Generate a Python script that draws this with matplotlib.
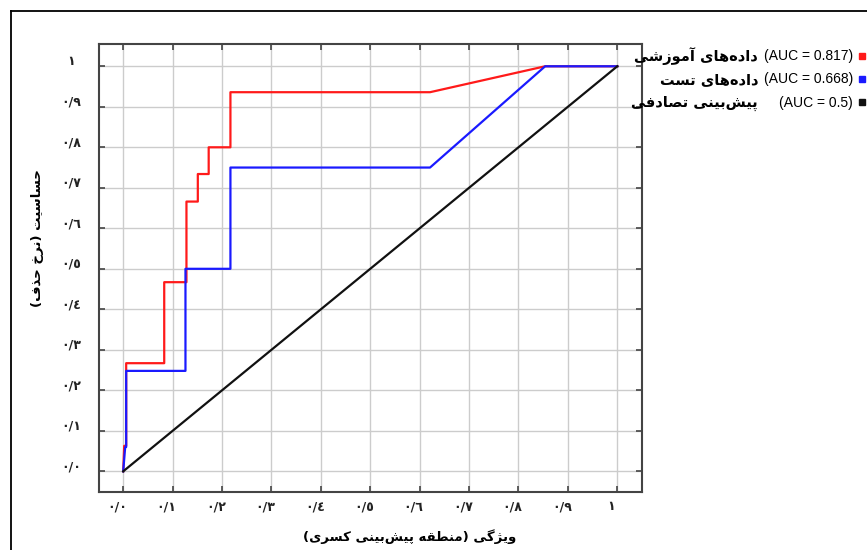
import numpy as np
import matplotlib
matplotlib.use('Agg')
import matplotlib.pyplot as plt
from matplotlib.lines import Line2D
from matplotlib.transforms import ScaledTranslation

# داده‌های منحنی ROC (خوانده شده از تصویر)
train_fpr = [0.0, 0.002, 0.006, 0.006, 0.083, 0.083, 0.128, 0.128, 0.151, 0.151, 0.173, 0.173, 0.217, 0.217, 0.621, 0.854, 1.0]
train_tpr = [0.0, 0.063, 0.063, 0.267, 0.267, 0.467, 0.467, 0.666, 0.666, 0.734, 0.734, 0.800, 0.800, 0.936, 0.936, 1.0, 1.0]
test_fpr = [0.0, 0.004, 0.006, 0.006, 0.126, 0.126, 0.217, 0.217, 0.621, 0.854, 1.0]
test_tpr = [0.0, 0.060, 0.060, 0.248, 0.248, 0.500, 0.500, 0.750, 0.750, 1.0, 1.0]
rand_fpr = [0.0, 1.0]
rand_tpr = [0.0, 1.0]

series_names = ['داده‌های آموزشی', 'داده‌های تست', 'پیش‌بینی تصادفی']
series_auc = ['(AUC = 0.817)', '(AUC = 0.668)', '(AUC = 0.5)']
series_colors = ['#ff1a1a', '#1a1aff', '#111111']
ticks = np.round(np.arange(0, 1.01, 0.1), 1)
tick_labels = ['٠/٠', '٠/١', '٠/٢', '٠/٣', '٠/٤', '٠/٥', '٠/٦', '٠/٧', '٠/٨', '٠/٩', '١']
xlabel_txt = 'ویژگی (منطقه پیش‌بینی کسری)'
ylabel_txt = 'حساسیت (نرخ حذف)'

# شکل‌دهی ساده حروف فارسی (matplotlib خودش اتصال حروف را انجام نمی‌دهد)
FORMS = {
    'ا': ('\uFE8D', '\uFE8E'), 'آ': ('\uFE81', '\uFE82'),
    'د': ('\uFEA9', '\uFEAA'), 'ذ': ('\uFEAB', '\uFEAC'),
    'ر': ('\uFEAD', '\uFEAE'), 'ز': ('\uFEAF', '\uFEB0'),
    'ژ': ('\uFB8A', '\uFB8B'), 'و': ('\uFEED', '\uFEEE'),
    'ب': ('\uFE8F', '\uFE90', '\uFE91', '\uFE92'),
    'پ': ('\uFB56', '\uFB57', '\uFB58', '\uFB59'),
    'ت': ('\uFE95', '\uFE96', '\uFE97', '\uFE98'),
    'ح': ('\uFEA1', '\uFEA2', '\uFEA3', '\uFEA4'),
    'خ': ('\uFEA5', '\uFEA6', '\uFEA7', '\uFEA8'),
    'س': ('\uFEB1', '\uFEB2', '\uFEB3', '\uFEB4'),
    'ش': ('\uFEB5', '\uFEB6', '\uFEB7', '\uFEB8'),
    'ص': ('\uFEB9', '\uFEBA', '\uFEBB', '\uFEBC'),
    'ط': ('\uFEC1', '\uFEC2', '\uFEC3', '\uFEC4'),
    'ف': ('\uFED1', '\uFED2', '\uFED3', '\uFED4'),
    'ق': ('\uFED5', '\uFED6', '\uFED7', '\uFED8'),
    'ک': ('\uFB8E', '\uFB8F', '\uFB90', '\uFB91'),
    'گ': ('\uFB92', '\uFB93', '\uFB94', '\uFB95'),
    'م': ('\uFEE1', '\uFEE2', '\uFEE3', '\uFEE4'),
    'ن': ('\uFEE5', '\uFEE6', '\uFEE7', '\uFEE8'),
    'ه': ('\uFEE9', '\uFEEA', '\uFEEB', '\uFEEC'),
    'ی': ('\uFBFC', '\uFBFD', '\uFBFE', '\uFBFF'),
}


def fa(s):
    out = []
    for i, c in enumerate(s):
        if c not in FORMS:
            out.append(c)
            continue
        f = FORMS[c]
        prev = s[i - 1] if i > 0 else ''
        nxt = s[i + 1] if i < len(s) - 1 else ''
        jp = prev in FORMS and len(FORMS[prev]) == 4
        jn = len(f) == 4 and nxt in FORMS
        if jp and jn:
            out.append(f[3])
        elif jp:
            out.append(f[1])
        elif jn:
            out.append(f[2])
        else:
            out.append(f[0])
    t = ''.join(out).replace('\u200c', '')
    return t[::-1].translate(str.maketrans('()', ')('))


plt.rcParams['font.family'] = ['DejaVu Sans']
W, H = 867, 550
fig = plt.figure(figsize=(W / 100, H / 100), dpi=100)
ax = fig.add_axes([99 / W, 1 - 492 / H, 543 / W, 448 / H])

ax.plot(train_fpr, train_tpr, color=series_colors[0], lw=1.6)
ax.plot(test_fpr, test_tpr, color=series_colors[1], lw=1.6)
ax.plot(rand_fpr, rand_tpr, color=series_colors[2], lw=1.6)

ax.set_xlim(-0.049, 1.05)
ax.set_ylim(-0.051, 1.055)
ax.set_xticks(ticks)
ax.set_yticks(ticks)
ax.set_xticklabels(tick_labels, fontsize=9, fontweight='bold', color='#222222')
ax.set_yticklabels(tick_labels, fontsize=9, fontweight='bold', color='#222222')
ax.grid(True, color='#cccccc', lw=1)
ax.tick_params(direction='in', length=4, width=1.2, color='#444444',
               top=True, right=True)
ax.tick_params(axis='x', pad=6)
ax.tick_params(axis='y', pad=20)
for lab in ax.get_yticklabels():
    lab.set_horizontalalignment('center')
    lab.set_transform(lab.get_transform() + ScaledTranslation(0, 0.06, fig.dpi_scale_trans))
for lab in ax.get_xticklabels():
    lab.set_transform(lab.get_transform() + ScaledTranslation(-0.06, 0, fig.dpi_scale_trans))
for sp in ax.spines.values():
    sp.set_color('#444444')
    sp.set_linewidth(1.5)

fig.text(410 / W, 1 - 537 / H, fa(xlabel_txt), ha='center', va='center',
         fontsize=9.5, fontweight='bold')
fig.text(38 / W, 1 - 238 / H, fa(ylabel_txt), ha='center', va='center',
         rotation=90, fontsize=9.5, fontweight='bold')

# راهنما
handles = [Line2D([], [], ls='none', marker='s', ms=5, color=c) for c in series_colors]
leg = fig.legend(handles, series_auc, loc='center right',
                 bbox_to_anchor=(1.0, 1 - 79.5 / H), frameon=False,
                 markerfirst=False, handlelength=0.5, handletextpad=0.4,
                 labelspacing=0.65, borderpad=0, borderaxespad=0.1,
                 prop={'family': 'Liberation Sans', 'size': 10})
rows = [56, 79.5, 103]
for name, y in zip(series_names, rows):
    fig.text(758 / W, 1 - y / H, fa(name), ha='right', va='center',
             fontsize=10.5, fontweight='bold')

# قاب بیرونی
fig.add_artist(Line2D([11 / W, 1], [1 - 11 / H, 1 - 11 / H], color='black', lw=1.3))
fig.add_artist(Line2D([11 / W, 11 / W], [0, 1 - 11 / H], color='black', lw=1.3))

fig.savefig('out.png', dpi=100)
